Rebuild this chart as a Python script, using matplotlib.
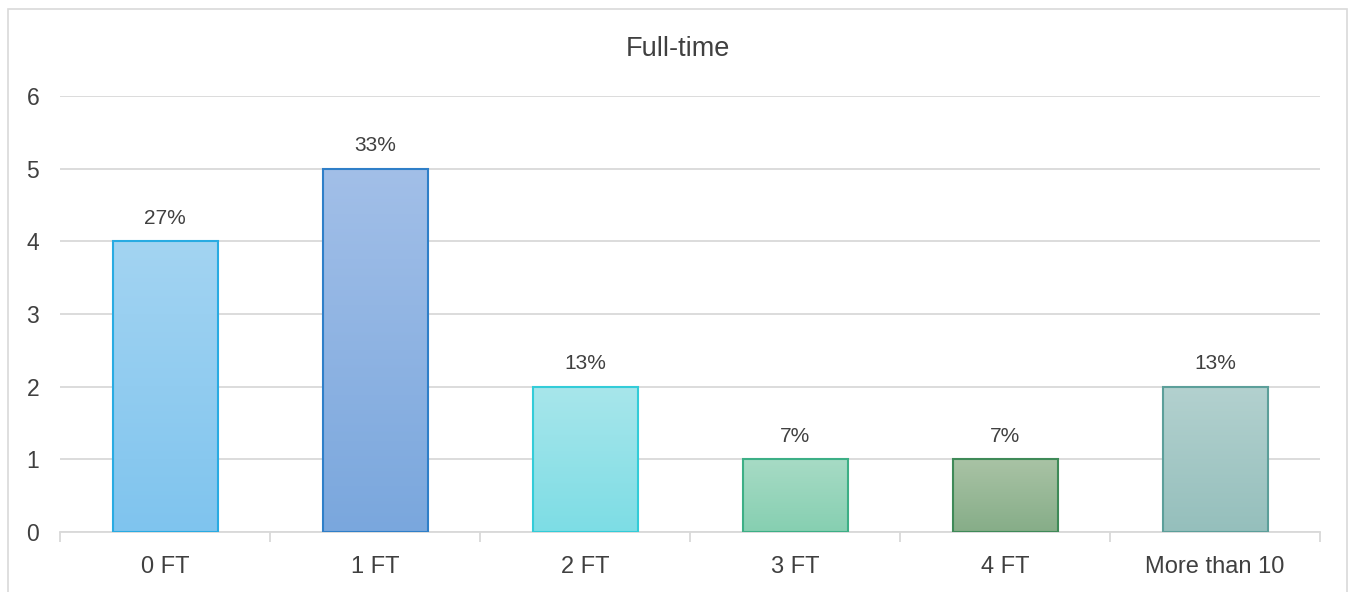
import matplotlib.pyplot as plt
import numpy as np
from matplotlib.colors import LinearSegmentedColormap
from matplotlib.patches import Rectangle

categories = ["0 FT", "1 FT", "2 FT", "3 FT", "4 FT", "More than 10"]
counts = [4, 5, 2, 1, 1, 2]
pct_labels = ["27%", "33%", "13%", "7%", "7%", "13%"]

tops = ["#a3d4f2", "#a2bfe8", "#a8e6eb", "#a7dbc5", "#a9c3a5", "#b3d1cf"]
bottoms = ["#7fc4ee", "#7aa7dd", "#7ddde5", "#86cfb1", "#86ad88", "#95bfbc"]
edges = ["#29abe2", "#2f7fc8", "#33ccd8", "#3daf86", "#3f8a58", "#5c9f9a"]

plt.rcParams["font.family"] = ["Liberation Sans", "DejaVu Sans"]
text_col = "#404040"
grid_col = "#d9d9d9"

fig = plt.figure(figsize=(13.53, 5.92), dpi=100)
ax = fig.add_axes([60 / 1353, 60 / 592, 1260 / 1353, 436 / 592])

# chart border
fig.patches.append(Rectangle((8 / 1353, -0.05), 1339 / 1353, 0.05 + 583 / 592,
                             transform=fig.transFigure, fill=False,
                             edgecolor="#d9d9d9", linewidth=1.2))

x = np.arange(len(categories))
bars = ax.bar(x, counts, width=0.5, color="none", edgecolor=edges, linewidth=1.5, zorder=3)

grad = np.linspace(1, 0, 256).reshape(-1, 1)
for i, b in enumerate(bars):
    cmap = LinearSegmentedColormap.from_list(f"g{i}", [bottoms[i], tops[i]])
    x0, y0 = b.get_x(), b.get_y()
    w, h = b.get_width(), b.get_height()
    im = ax.imshow(grad, cmap=cmap, extent=[x0, x0 + w, y0, y0 + h], aspect="auto",
                   vmin=0, vmax=1, zorder=2)
    im.set_clip_path(b)
    ax.text(b.get_x() + w / 2, h + 0.19, pct_labels[i], ha="center", va="bottom",
            fontsize=15, color=text_col)

ax.set_xlim(-0.5, len(categories) - 0.5)
ax.set_ylim(0, 6)
ax.set_yticks(range(0, 7))
ax.yaxis.grid(True, color=grid_col, linewidth=1.3, zorder=0)
ax.set_axisbelow(True)

ax.set_xticks(x)
ax.set_xticklabels(categories)
ax.set_xticks(np.arange(-0.5, len(categories)), minor=True)
ax.tick_params(axis="x", which="major", length=0, pad=17, labelsize=17, labelcolor=text_col)
ax.tick_params(axis="x", which="minor", length=7, width=1.3, color=grid_col)
ax.tick_params(axis="y", length=0, pad=15, labelsize=16.5, labelcolor=text_col)

for s in ["top", "right", "left"]:
    ax.spines[s].set_visible(False)
ax.spines["bottom"].set_color(grid_col)
ax.spines["bottom"].set_linewidth(1.3)

fig.text(678 / 1353, 1 - 49 / 592, "Full-time", ha="center", va="center",
         fontsize=19.5, color=text_col)

plt.savefig("out.png", dpi=100)
